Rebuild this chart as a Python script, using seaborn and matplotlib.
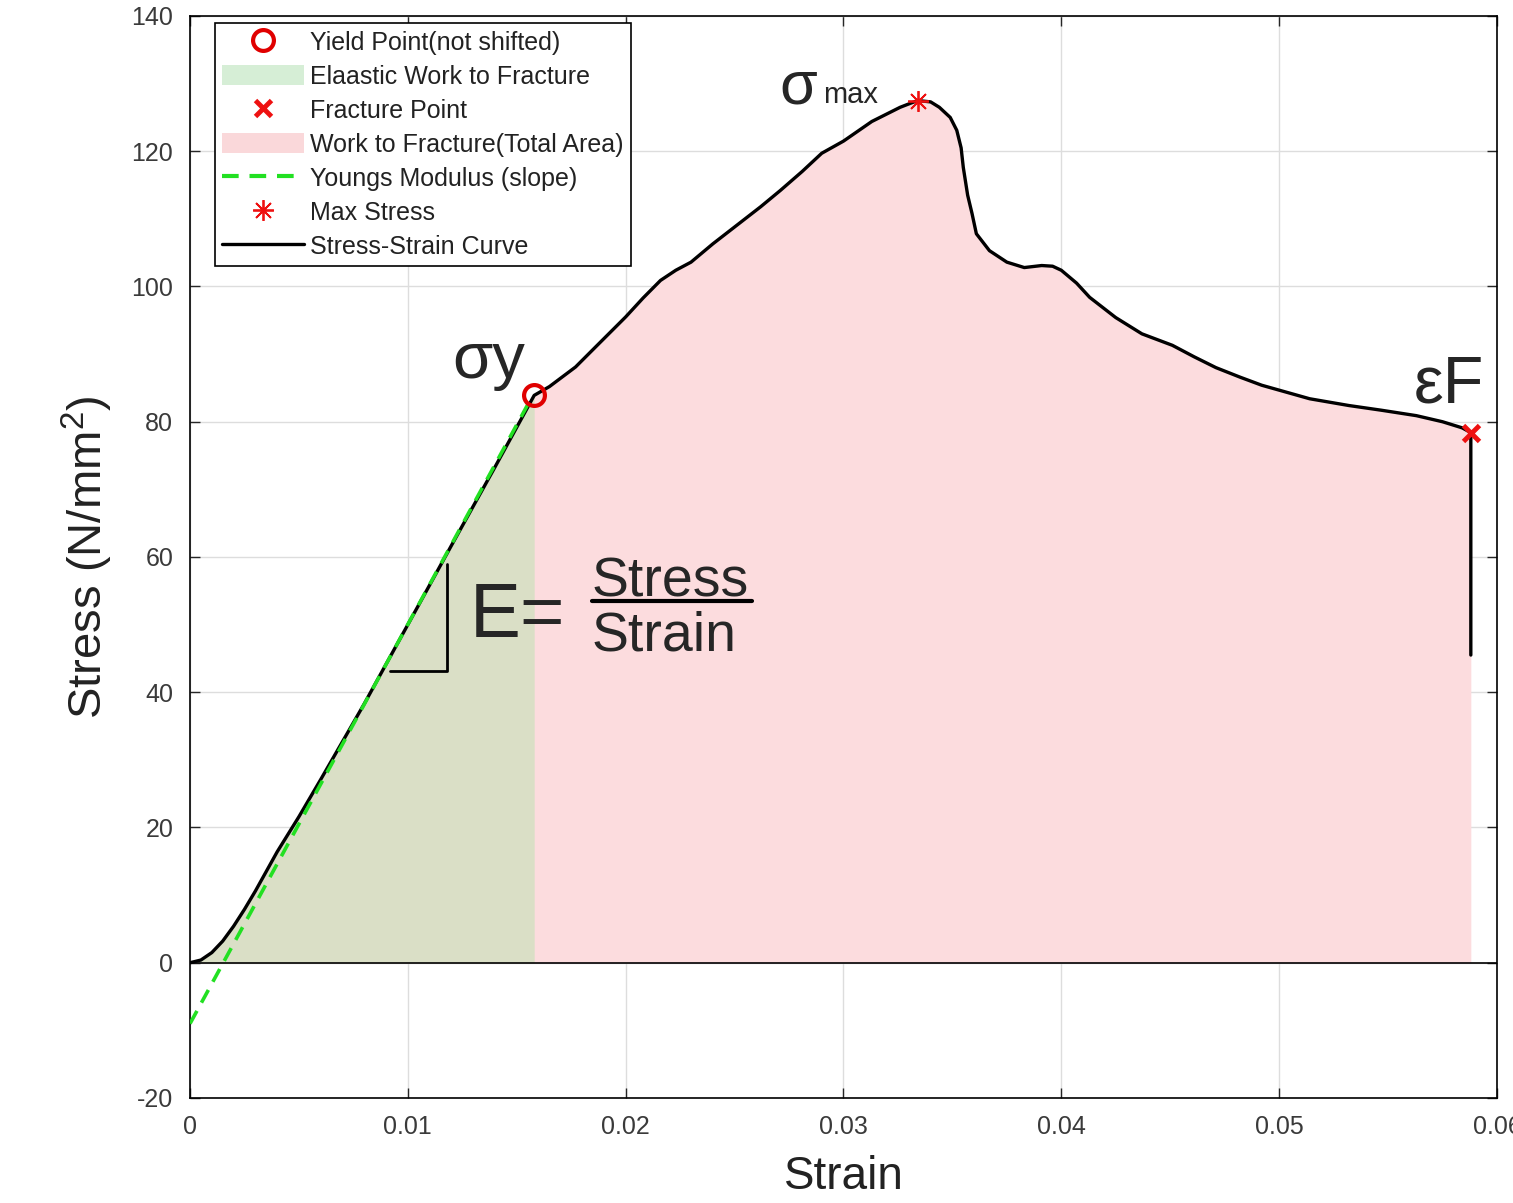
import matplotlib
matplotlib.use('Agg')
import matplotlib.pyplot as plt
import seaborn as sns
import pandas as pd
from matplotlib.lines import Line2D
from matplotlib.patches import Patch

# stress-strain curve
strain = [0, 0.0005, 0.0010, 0.0015, 0.0020, 0.0025, 0.0030, 0.0035, 0.0040,
          0.0050, 0.0060, 0.0080, 0.0100, 0.0120, 0.0140, 0.0158,
          0.0165, 0.0177, 0.0186, 0.0200, 0.0208, 0.0216, 0.0223, 0.0230,
          0.0240, 0.0252, 0.0262, 0.0271, 0.0281, 0.0290, 0.0300, 0.0313,
          0.0326, 0.0334, 0.0340, 0.0344, 0.0349, 0.0352, 0.0354, 0.0355,
          0.0357, 0.0359, 0.0361, 0.0367, 0.0375, 0.0383, 0.0391, 0.0396,
          0.0400, 0.0407, 0.0413, 0.0425, 0.0437, 0.0451, 0.0461, 0.0471,
          0.0482, 0.0492, 0.0503, 0.0514, 0.0532, 0.0547, 0.0563, 0.0575,
          0.0584, 0.0588, 0.0588]
stress = [0, 0.4, 1.5, 3.2, 5.4, 7.9, 10.6, 13.5, 16.4,
          21.6, 27.1, 38.3, 50.0, 61.7, 73.3, 83.9,
          85.2, 88.1, 91.0, 95.5, 98.3, 100.9, 102.4, 103.6,
          106.3, 109.3, 111.8, 114.2, 117.0, 119.7, 121.5, 124.4,
          126.5, 127.5, 127.3, 126.5, 125.0, 123.1, 120.5, 117.6,
          113.5, 110.8, 107.8, 105.3, 103.6, 102.8, 103.1, 103.0,
          102.4, 100.5, 98.4, 95.4, 93.0, 91.3, 89.6, 88.0,
          86.6, 85.4, 84.4, 83.4, 82.4, 81.7, 80.9, 80.0,
          79.1, 78.4, 45.5]

# youngs modulus line ends
mod_strain = [0, 0.0156]
mod_stress = [-9.0, 83.1]

yield_pt = (0.0158, 83.9)
max_pt = (0.0334, 127.5)
fract_pt = (0.0588, 78.4)

xticks = [0, 0.01, 0.02, 0.03, 0.04, 0.05, 0.06]
xticklabels = ['0', '0.01', '0.02', '0.03', '0.04', '0.05', '0.06']
yticks = [-20, 0, 20, 40, 60, 80, 100, 120, 140]

sns.set_style('ticks')
plt.rcParams['font.family'] = ['Liberation Sans', 'DejaVu Sans']
plt.rcParams['mathtext.fontset'] = 'custom'
plt.rcParams['mathtext.rm'] = 'Liberation Sans'
plt.rcParams['axes.unicode_minus'] = False

df = pd.DataFrame({'strain': strain, 'stress': stress})
body = df.iloc[:-1]
elastic = body[body['strain'] <= yield_pt[0]]

fig = plt.figure(figsize=(15.13, 12.03), dpi=100)
ax = fig.add_axes([0.1256, 0.0873, 0.8638, 0.8994])

pink = '#fcdcde'
olive = '#dadfc6'
ax.fill_between(body['strain'], 0, body['stress'], color=pink, lw=0, zorder=1)
ax.fill_between(elastic['strain'], 0, elastic['stress'], color=olive, lw=0, zorder=1.1)

ax.grid(True, color='#dddddd', lw=1, zorder=0)
ax.set_axisbelow(True)
ax.axhline(0, color='black', lw=1.2, zorder=2)

sns.lineplot(data=df, x='strain', y='stress', sort=False, estimator=None,
             color='black', lw=2.4, ax=ax, zorder=3)
sns.lineplot(x=mod_strain, y=mod_stress, color='#22e022', lw=2.6,
             dashes=False, ax=ax, zorder=4)
ax.lines[-1].set_dashes((4, 2.6))

ax.plot(*yield_pt, 'o', ms=15, mfc='none', mec='#e00000', mew=3, zorder=5)
ax.plot(*fract_pt, 'x', ms=11, mec='#ee1111', mew=3.5, zorder=5)
ax.plot(*max_pt, marker=(8, 2, 0), ms=15, mec='#ee1111', mew=1.3, zorder=5)

ax.set_xlim(0, 0.06)
ax.set_ylim(-20, 140)
ax.set_xticks(xticks)
ax.set_xticklabels(xticklabels)
ax.set_yticks(yticks)
ax.tick_params(direction='in', length=7, width=1, top=True, right=True,
               labelsize=18, labelcolor='#3a3a3a', pad=12)
for s in ax.spines.values():
    s.set_color('black')
    s.set_linewidth(1.2)

ax.set_xlabel('Strain', fontsize=33, color='#222222', labelpad=12)
ax.set_ylabel('Stress (N/mm$^2$)', fontsize=34, color='#222222', labelpad=12)

# annotations
ax.text(0.01206, 86.4, 'σy', fontsize=47, ha='left', va='baseline')
ax.text(0.02706, 127.1, 'σ', fontsize=44, ha='left', va='baseline')
ax.text(0.02904, 127.1, 'max', fontsize=21, ha='left', va='baseline')
ax.text(0.0562, 82.8, 'εF', fontsize=48, ha='left', va='baseline')
ax.text(0.01284, 48.1, 'E=', fontsize=55, ha='left', va='baseline')
ax.text(0.01844, 54.2, 'Stress', fontsize=40, ha='left', va='baseline')
ax.text(0.01844, 46.2, 'Strain', fontsize=40, ha='left', va='baseline')
ax.plot([0.01844, 0.02578], [53.5, 53.5], color='black', lw=3, zorder=6)
ax.plot([0.00917, 0.01179, 0.01179], [43.2, 43.2, 59.0], color='black', lw=2, zorder=6)

handles = [
    Line2D([], [], ls='none', marker='o', ms=15, mfc='none', mec='#e00000', mew=3),
    Patch(facecolor='#d6eed6', edgecolor='none'),
    Line2D([], [], ls='none', marker='x', ms=11, mec='#ee1111', mew=3.5),
    Patch(facecolor='#fad8da', edgecolor='none'),
    Line2D([], [], color='#22e022', lw=3, dashes=(4, 2.6)),
    Line2D([], [], ls='none', marker=(8, 2, 0), ms=15, mec='#ee1111', mew=1.3),
    Line2D([], [], color='black', lw=2.4),
]
labels = ['Yield Point(not shifted)', 'Elaastic Work to Fracture', 'Fracture Point',
          'Work to Fracture(Total Area)', 'Youngs Modulus (slope)', 'Max Stress',
          'Stress-Strain Curve']
leg = ax.legend(handles, labels, loc='upper left', bbox_to_anchor=(0.019, 0.9935),
                borderaxespad=0, fontsize=18, frameon=True, fancybox=False,
                edgecolor='black', framealpha=1, handlelength=3.25,
                handleheight=0.9, handletextpad=0.25, labelspacing=0.4,
                borderpad=0.3)
leg.get_frame().set_linewidth(1.2)
for t in leg.get_texts():
    t.set_color('#222222')

fig.savefig('out.png', dpi=100)
